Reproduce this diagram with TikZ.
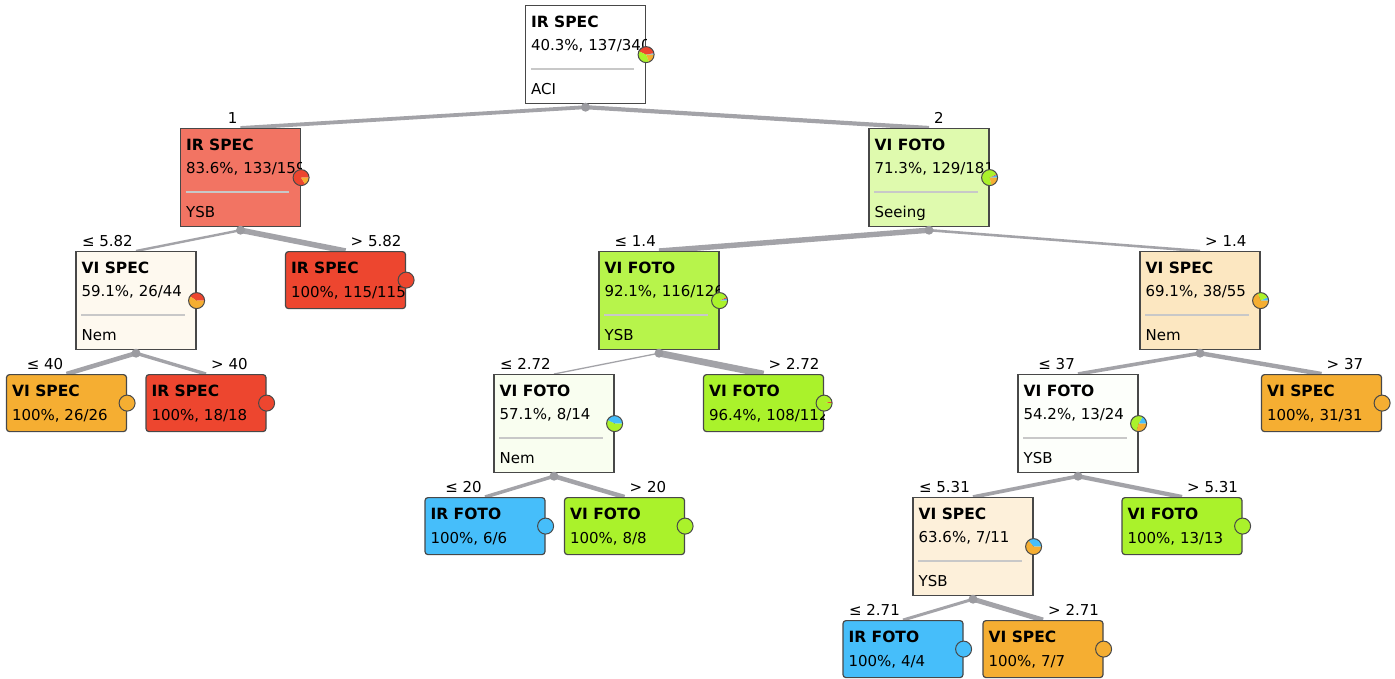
\documentclass[tikz,border=0pt]{standalone}
\usepackage{fontspec}
\setmainfont{DejaVu Sans}
\usetikzlibrary{backgrounds}

\definecolor{irfoto}{RGB}{70,190,250}
\definecolor{irspec}{RGB}{237,70,47}
\definecolor{vifoto}{RGB}{170,242,43}
\definecolor{vispec}{RGB}{245,174,50}
\definecolor{boxline}{RGB}{72,72,72}
\definecolor{edgegray}{RGB}{163,163,168}
\definecolor{sepgray}{RGB}{200,200,200}

\tikzset{
  splitbox/.style={draw=boxline, line width=1.2pt, anchor=north, minimum width=120, minimum height=98, inner sep=0},
  leafbox/.style={splitbox, rounded corners=3, minimum height=57},
  txt/.style={anchor=base west, inner sep=0, font=\fontsize{15}{18}\selectfont},
  ttl/.style={txt, font=\fontsize{15.5}{18}\selectfont\bfseries},
  cut/.style={inner sep=0, font=\fontsize{15}{18}\selectfont},
  sepline/.style={draw=sepgray, line width=1.3pt},
  edge/.style={draw=edgegray},
  knot/.style={fill=edgegray!95!black},
  piering/.style={draw=boxline, line width=1pt}
}

\newcommand{\splitnode}[7]{%
  \node[splitbox, fill=#4] (#1) at (#2,#3) {};
  \node[ttl] (#1-t) at ([shift={(6,22)}]#1.north west) {#5};
  \begin{scope}
    \clip (#1.north west) rectangle (#1.south east);
    \node[txt] (#1-s) at ([shift={(6,45)}]#1.north west) {#6};
  \end{scope}
  \draw[sepline] ([shift={(6,64)}]#1.north west) -- ([shift={(-12,64)}]#1.north east);
  \node[txt] (#1-c) at ([shift={(6,89)}]#1.north west) {#7};
}
\newcommand{\leafnode}[6]{%
  \node[leafbox, fill=#4] (#1) at (#2,#3) {};
  \node[ttl] (#1-t) at ([shift={(6,22)}]#1.north west) {#5};
  \begin{scope}
    \clip (#1.north west) rectangle (#1.south east);
    \node[txt] (#1-s) at ([shift={(6,46)}]#1.north west) {#6};
  \end{scope}
}
\newcommand{\piechart}[2]{%
  \begin{scope}[shift={(#1.east)}, yscale=-1]
    \foreach \a/\b/\c in {#2}
      \fill[\c] (0,0) -- (\a:8) arc[start angle=\a, end angle=\b, radius=8] -- cycle;
    \draw[piering] (0,0) circle[radius=8];
  \end{scope}
}

\begin{document}
\begin{tikzpicture}[x=1pt, y=-1pt]
\useasboundingbox (0,0) rectangle (1395,678);

\splitnode{n0}{585.5}{5}{white}{IR SPEC}{40.3\%, 137/340}{ACI}
\splitnode{n1}{240.5}{128}{irspec!75!white}{IR SPEC}{83.6\%, 133/159}{YSB}
\splitnode{n2}{929}{128}{vifoto!38!white}{VI FOTO}{71.3\%, 129/181}{Seeing}
\splitnode{n3}{136}{251}{vispec!8!white}{VI SPEC}{59.1\%, 26/44}{Nem}
\leafnode{l115}{345.5}{251}{irspec}{IR SPEC}{100\%, 115/115}
\splitnode{n5}{659}{251}{vifoto!85!white}{VI FOTO}{92.1\%, 116/126}{YSB}
\splitnode{n6}{1200}{251}{vispec!30!white}{VI SPEC}{69.1\%, 38/55}{Nem}
\leafnode{l26}{66.5}{374}{vispec}{VI SPEC}{100\%, 26/26}
\leafnode{l18}{206}{374}{irspec}{IR SPEC}{100\%, 18/18}
\splitnode{n7}{554}{374}{vifoto!7!white}{VI FOTO}{57.1\%, 8/14}{Nem}
\leafnode{l112}{763.5}{374}{vifoto}{VI FOTO}{96.4\%, 108/112}
\splitnode{n8}{1078}{374}{vifoto!2!white}{VI FOTO}{54.2\%, 13/24}{YSB}
\leafnode{l31}{1321.5}{374}{vispec}{VI SPEC}{100\%, 31/31}
\leafnode{l6}{485}{497}{irfoto}{IR FOTO}{100\%, 6/6}
\leafnode{l8}{624.5}{497}{vifoto}{VI FOTO}{100\%, 8/8}
\splitnode{n9}{973}{497}{vispec!18!white}{VI SPEC}{63.6\%, 7/11}{YSB}
\leafnode{l13}{1182}{497}{vifoto}{VI FOTO}{100\%, 13/13}
\leafnode{l4}{903}{620}{irfoto}{IR FOTO}{100\%, 4/4}
\leafnode{l7}{1043}{620}{vispec}{VI SPEC}{100\%, 7/7}

\foreach \p in {n0,n1,n2,n3,n5,n6,n7,n8,n9}
  \coordinate (\p-k) at ([shift={(0,3)}]\p.south);

\begin{scope}[on background layer]
\foreach \p/\q/\w in {n0/n1/3.8, n0/n2/4.2, n1/n3/2.4, n1/l115/5.6, n3/l26/4.6, n3/l18/3.4,
    n2/n5/5.4, n2/n6/2.6, n5/n7/1.3, n5/l112/6.7, n7/l6/3.5, n7/l8/4.5,
    n6/n8/3.6, n6/l31/4.4, n8/n9/3.7, n8/l13/4.3, n9/l4/3.0, n9/l7/5.0}
  \draw[edge, line width=\w] (\p-k) -- (\q.north);
\end{scope}
\foreach \p in {n0,n1,n2,n3,n5,n6,n7,n8,n9}
  \fill[knot] (\p-k) circle[radius=4.5];

\foreach \q/\t in {n1/1, n3/≤ 5.82, l26/≤ 40, n5/≤ 1.4, n7/≤ 2.72, l6/≤ 20, n8/≤ 37, n9/≤ 5.31, l4/≤ 2.71}
  \node[cut, anchor=base east] (\q-cut) at ([shift={(-3,-5)}]\q.north) {\t};
\foreach \q/\t in {n2/2, l115/> 5.82, l18/> 40, n6/> 1.4, l112/> 2.72, l8/> 20, l31/> 37, l13/> 5.31, l7/> 2.71}
  \node[cut, anchor=base west] (\q-cut) at ([shift={(5,-5)}]\q.north) {\t};

\piechart{n0}{0/10.59/irfoto, 10.59/155.65/irspec, 155.65/292.24/vifoto, 292.24/360/vispec}
\piechart{n1}{0/301.13/irspec, 301.13/360/vispec}
\piechart{n2}{0/19.89/irfoto, 19.89/27.85/irspec, 27.85/284.42/vifoto, 284.42/360/vispec}
\piechart{n3}{0/147.27/irspec, 147.27/360/vispec}
\piechart{n5}{0/17.14/irfoto, 17.14/28.57/irspec, 28.57/360/vifoto}
\piechart{n6}{0/26.18/irfoto, 26.18/111.27/vifoto, 111.27/360/vispec}
\piechart{n7}{0/154.29/irfoto, 154.29/360/vifoto}
\piechart{n8}{0/60/irfoto, 60/255/vifoto, 255/360/vispec}
\piechart{n9}{0/130.91/irfoto, 130.91/360/vispec}
\piechart{l112}{0/12.86/irspec, 12.86/360/vifoto}
\foreach \l/\col in {l115/irspec, l26/vispec, l18/irspec, l31/vispec, l6/irfoto, l8/vifoto, l13/vifoto, l4/irfoto, l7/vispec}
  {\piechart{\l}{0/360/\col}}
\end{tikzpicture}
\end{document}
